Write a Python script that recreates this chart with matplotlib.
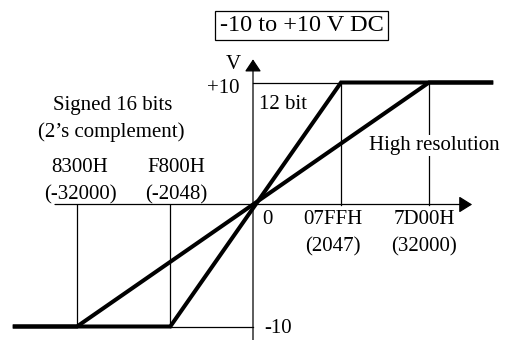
import matplotlib
matplotlib.use("Agg")
import matplotlib.pyplot as plt

# Schematic diagram data (diagram units: x in schematic code position, y in volts)
code_hex = ["8300H", "F800H", "07FFH", "7D00H"]
code_dec = ["(-32000)", "(-2048)", "(2047)", "(32000)"]
code_pos = [-2.0, -0.94, 1.0, 2.0]          # schematic x positions of the codes
v_min, v_max = -10, 10
x_end = 2.73                                 # end of saturated segments

# 12-bit line
bit12_x = [-x_end, code_pos[1], code_pos[2], x_end]
bit12_y = [v_min, v_min, v_max, v_max]
# High-resolution line
hires_x = [-x_end, code_pos[0], code_pos[3], x_end]
hires_y = [v_min, v_min, v_max, v_max]

plt.rcParams['font.family'] = ['Liberation Serif', 'DejaVu Serif']
FS = 15

fig = plt.figure(figsize=(5.06, 3.40), dpi=100)
ax = fig.add_axes([0, 0, 1, 1])
ax.set_xlim(-253 / 88, (506 - 253) / 88)
ax.set_ylim(-(340 - 204.5) / 12.2, 204.5 / 12.2)
ax.axis('off')

thin = 0.9
# axes with arrows
ax.annotate('', xy=(0, 11.9), xytext=(0, -11.2),
            arrowprops=dict(arrowstyle='-|>,head_length=0.75,head_width=0.5',
                            lw=thin, color='black', shrinkA=0, shrinkB=0))
ax.annotate('', xy=(2.49, 0), xytext=(-2.25, 0),
            arrowprops=dict(arrowstyle='-|>,head_length=0.8,head_width=0.5',
                            lw=thin, color='black', shrinkA=0, shrinkB=0))

# guide lines
ax.plot([0, code_pos[2]], [v_max, v_max], color='black', lw=thin)
ax.plot([code_pos[1], 0], [v_min, v_min], color='black', lw=thin)
for xp in code_pos:
    yend = v_max if xp > 0 else v_min
    ax.plot([xp, xp], [0, yend], color='black', lw=thin)

# characteristic lines
ax.plot(hires_x, hires_y, color='black', lw=2.9, solid_capstyle='butt',
        solid_joinstyle='miter')
ax.plot(bit12_x, bit12_y, color='black', lw=2.9, solid_capstyle='butt',
        solid_joinstyle='miter')

# texts
ax.text(0.551, 14.67, "-10 to +10 V DC", fontsize=17.5, ha='center', va='center',
        bbox=dict(boxstyle='square,pad=0.18', fc='white', ec='black', lw=thin))
ax.text(-0.219, 11.5, "V", fontsize=FS, ha='center', va='center')
ax.text(-0.148, 9.5, "+10", fontsize=FS, ha='right', va='center')
ax.text(0.068, 8.2, "12 bit", fontsize=FS, ha='left', va='center')
ax.text(-1.597, 8.15, "Signed 16 bits", fontsize=FS, ha='center', va='center')
ax.text(-1.614, 5.95, "(2\u2019s complement)", fontsize=FS, ha='center', va='center')
ax.text(2.057, 4.8, "High resolution", fontsize=FS, ha='center', va='center',
        bbox=dict(boxstyle='square,pad=0.05', fc='white', ec='none'))

hex_x = [-1.966, -0.877, 0.9125, 1.943]
for i in range(4):
    yh = 3.05 if code_pos[i] < 0 else -1.25
    yd = 0.82 if code_pos[i] < 0 else -3.45
    ax.text(hex_x[i], yh, code_hex[i], fontsize=FS, ha='center', va='center')
    ax.text(hex_x[i], yd, code_dec[i], fontsize=FS, ha='center', va='center')
ax.text(0.159, -1.25, "0", fontsize=FS, ha='center', va='center')
ax.text(0.125, -10.15, "-10", fontsize=FS, ha='left', va='center')

fig.savefig("out.png", dpi=100)
